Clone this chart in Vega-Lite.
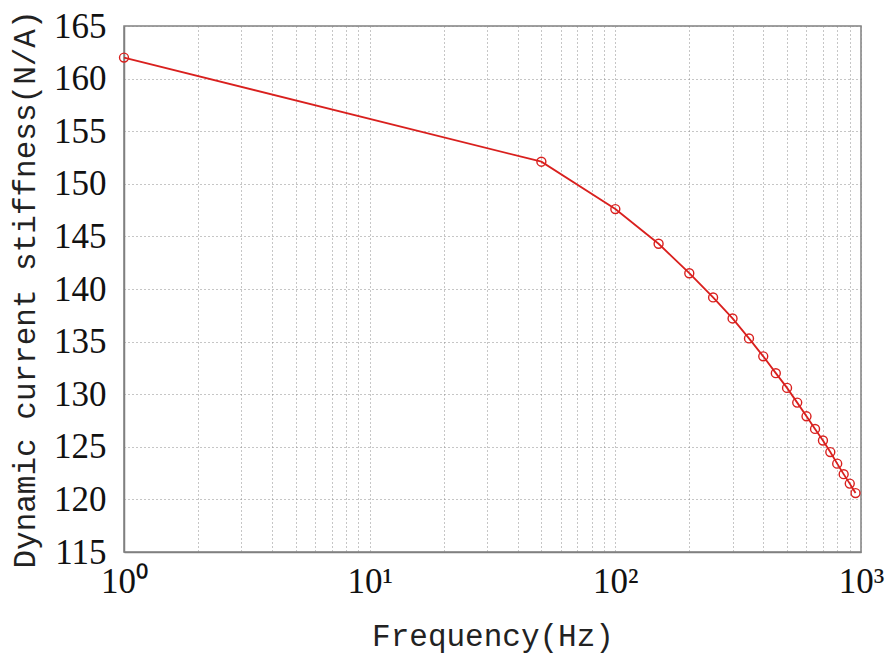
{
  "$schema": "https://vega.github.io/schema/vega-lite/v6.json",
  "autosize": {"type": "none"},
  "padding": {"left": 124, "top": 26, "right": 35, "bottom": 113},
  "width": 737,
  "height": 526,
  "background": "white",
  "config": {
    "view": {"stroke": "#808080", "strokeWidth": 1.5},
    "axis": {
      "domainColor": "#808080",
      "domainWidth": 1.5,
      "gridColor": "#8c8c8c",
      "gridDash": [1, 3],
      "gridWidth": 1,
      "tickSize": 0,
      "labelFont": "Liberation Serif",
      "labelFontSize": 35,
      "labelColor": "#111111",
      "titleFont": "Liberation Mono",
      "titleFontSize": 31,
      "titleFontWeight": "normal",
      "titleColor": "#222222"
    }
  },
  "data": {
    "values": [
      {"f": 1, "k": 162.0},
      {"f": 50, "k": 152.1},
      {"f": 100, "k": 147.6},
      {"f": 150, "k": 144.3},
      {"f": 200, "k": 141.5},
      {"f": 250, "k": 139.2},
      {"f": 300, "k": 137.2},
      {"f": 350, "k": 135.3},
      {"f": 400, "k": 133.6},
      {"f": 450, "k": 132.0},
      {"f": 500, "k": 130.6},
      {"f": 550, "k": 129.2},
      {"f": 600, "k": 127.9},
      {"f": 650, "k": 126.7},
      {"f": 700, "k": 125.6},
      {"f": 750, "k": 124.5},
      {"f": 800, "k": 123.4},
      {"f": 850, "k": 122.4},
      {"f": 900, "k": 121.5},
      {"f": 950, "k": 120.6}
    ]
  },
  "encoding": {
    "x": {
      "field": "f",
      "type": "quantitative",
      "scale": {"type": "log", "domain": [1, 1000], "nice": false},
      "axis": {
        "title": "Frequency(Hz)",
        "values": [1, 2, 3, 4, 5, 6, 7, 8, 9, 10, 20, 30, 40, 50, 60, 70, 80, 90, 100, 200, 300, 400, 500, 600, 700, 800, 900, 1000],
        "labelExpr": "datum.value == 1 ? '10⁰' : datum.value == 10 ? '10¹' : datum.value == 100 ? '10²' : datum.value == 1000 ? '10³' : ''",
        "labelPadding": 12,
        "labelOverlap": false,
        "labelFlush": false,
        "titlePadding": 22
      }
    },
    "y": {
      "field": "k",
      "type": "quantitative",
      "scale": {"domain": [115, 165], "nice": false, "zero": false},
      "axis": {
        "title": "Dynamic current stiffness(N/A)",
        "values": [115, 120, 125, 130, 135, 140, 145, 150, 155, 160, 165],
        "labelPadding": 18,
        "labelOverlap": false,
        "labelFlush": false,
        "titlePadding": 12
      }
    }
  },
  "layer": [
    {
      "mark": {"type": "line", "color": "#d9201e", "strokeWidth": 1.8}
    },
    {
      "mark": {"type": "point", "shape": "circle", "filled": false, "color": "#d9201e", "size": 80, "strokeWidth": 1.4, "opacity": 1}
    }
  ]
}
